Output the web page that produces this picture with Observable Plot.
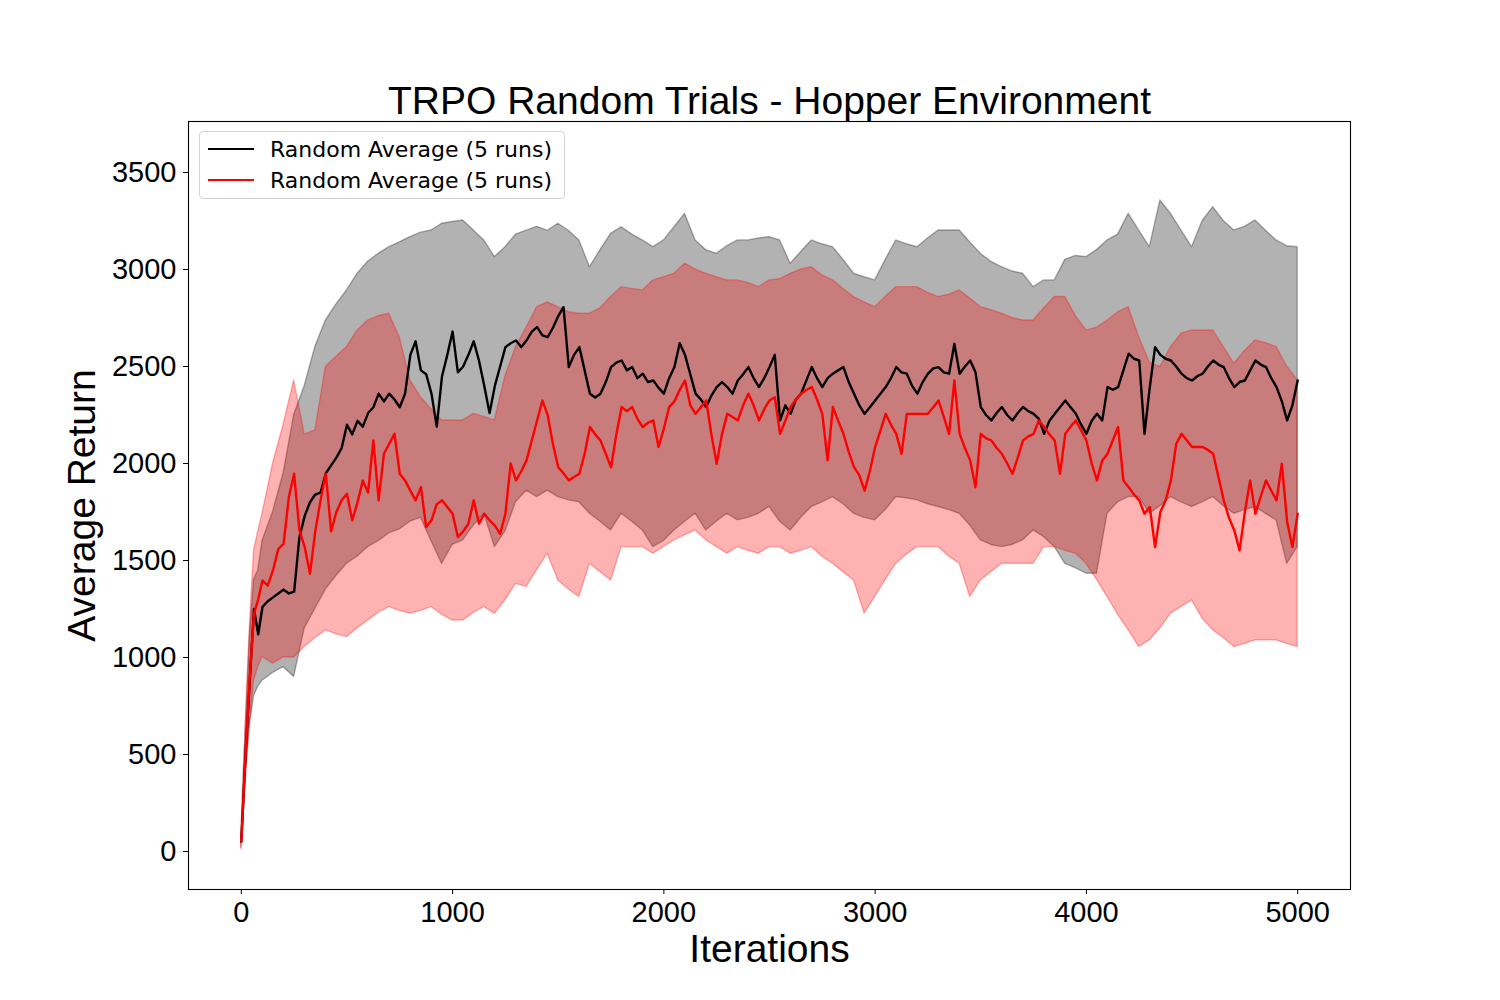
<!DOCTYPE html>
<html><head><meta charset="utf-8">
<script src="https://cdn.jsdelivr.net/npm/d3@7"></script>
<script src="https://cdn.jsdelivr.net/npm/@observablehq/plot@0.6"></script>
<style>
body{margin:0;background:#fff;}
#wrap{position:relative;width:1500px;height:1000px;}
#legend{position:absolute;left:199px;top:131px;width:364px;height:66px;border:1px solid #d3d3d3;border-radius:4px;background:rgba(255,255,255,0.8);font-family:"DejaVu Sans",sans-serif;font-size:22px;color:#000;}
.row{position:absolute;left:0;height:30px;display:flex;align-items:center;white-space:nowrap;}
.sw{width:46px;height:2px;margin-left:8px;margin-right:16px;}
</style></head>
<body><div id="wrap"></div>
<script>
const titleText = "TRPO Random Trials - Hopper Environment";
const xLabel = "Iterations";
const yLabel = "Average Return";
const seriesNames = ["Random Average (5 runs)", "Random Average (5 runs)"];
const seriesColors = ["black", "red"];
const xTicks = [0, 1000, 2000, 3000, 4000, 5000];
const yTicks = [0, 500, 1000, 1500, 2000, 2500, 3000, 3500];

// iterations sampled for the two mean curves
const meanIters = [0,20,40,60,80,100,125,150,175,200,
225,250,275,300,325,350,375,400,425,450,
475,500,525,550,575,600,625,650,675,700,
725,750,775,800,825,850,875,900,925,950,
975,1000,1025,1050,1075,1100,1125,1150,1175,1200,
1225,1250,1275,1300,1325,1350,1375,1400,1425,1450,
1475,1500,1525,1550,1575,1600,1625,1650,1675,1700,
1725,1750,1775,1800,1825,1850,1875,1900,1925,1950,
1975,2000,2025,2050,2075,2100,2125,2150,2175,2200,
2225,2250,2275,2300,2325,2350,2375,2400,2425,2450,
2475,2500,2525,2550,2575,2600,2625,2650,2675,2700,
2725,2750,2775,2800,2825,2850,2875,2900,2925,2950,
2975,3000,3025,3050,3075,3100,3125,3150,3175,3200,
3225,3250,3275,3300,3325,3350,3375,3400,3425,3450,
3475,3500,3525,3550,3575,3600,3625,3650,3675,3700,
3725,3750,3775,3800,3825,3850,3875,3900,3925,3950,
3975,4000,4025,4050,4075,4100,4125,4150,4175,4200,
4225,4250,4275,4300,4325,4350,4375,4400,4425,4450,
4475,4500,4525,4550,4575,4600,4625,4650,4675,4700,
4725,4750,4775,4800,4825,4850,4875,4900,4925,4950,
4975,5000];

const blackMean = [50,500,880,1250,1120,1260,1290,1310,1330,1350,
1330,1340,1620,1730,1800,1840,1850,1950,1990,2030,
2080,2200,2150,2220,2190,2260,2290,2360,2320,2360,
2330,2290,2360,2560,2630,2480,2460,2360,2190,2450,
2560,2680,2470,2500,2560,2630,2530,2400,2260,2400,
2500,2600,2620,2634,2600,2634,2680,2703,2660,2651,
2700,2760,2806,2497,2560,2600,2480,2360,2340,2360,
2420,2497,2520,2531,2480,2497,2440,2463,2420,2428,
2390,2360,2440,2497,2620,2560,2460,2360,2330,2291,
2350,2394,2420,2394,2360,2428,2460,2497,2440,2394,
2440,2497,2560,2222,2300,2256,2330,2360,2430,2497,
2440,2394,2440,2463,2480,2497,2420,2360,2300,2256,
2290,2325,2360,2394,2440,2497,2470,2463,2400,2360,
2420,2463,2490,2497,2470,2463,2617,2463,2500,2531,
2470,2291,2250,2222,2260,2291,2250,2222,2260,2291,
2270,2256,2230,2153,2220,2256,2290,2325,2290,2256,
2200,2153,2220,2256,2222,2394,2380,2394,2480,2566,
2540,2531,2153,2394,2600,2560,2540,2531,2500,2463,
2440,2428,2450,2463,2500,2531,2510,2497,2440,2394,
2420,2428,2480,2531,2510,2497,2440,2394,2320,2222,
2300,2428];

const redMean = [50,500,900,1226,1300,1397,1370,1450,1560,1586,
1827,1947,1655,1569,1432,1650,1810,1947,1650,1750,
1810,1844,1707,1800,1913,1850,2119,1810,2050,2102,
2153,1947,1913,1860,1810,1878,1672,1707,1790,1810,
1776,1741,1621,1650,1690,1810,1690,1741,1707,1680,
1638,1741,2000,1913,1960,2016,2120,2222,2325,2250,
2100,1981,1950,1913,1930,1947,2050,2188,2150,2119,
2050,1981,2150,2291,2270,2291,2230,2188,2210,2222,
2085,2180,2291,2320,2380,2428,2300,2256,2290,2325,
2150,1999,2150,2256,2240,2222,2300,2360,2300,2222,
2280,2325,2342,2153,2220,2291,2330,2360,2380,2394,
2330,2256,2016,2291,2220,2153,2060,1981,1940,1860,
1960,2085,2170,2256,2200,2153,2050,2256,2256,2256,
2256,2256,2290,2325,2240,2153,2428,2153,2080,2016,
1878,2153,2130,2119,2080,2050,2000,1947,2030,2119,
2140,2153,2222,2188,2150,2119,1947,2153,2190,2222,
2170,2119,2000,1913,2016,2050,2120,2188,1913,1878,
1840,1810,1741,1776,1569,1750,1810,1913,2100,2153,
2120,2085,2085,2085,2070,2050,1930,1810,1720,1655,
1552,1750,1913,1741,1830,1913,1860,1810,1999,1700,
1569,1741];

// iterations sampled for the four band edges (mean ± spread)
const bandIters = [0,20,40,60,80,100,150,200,250,300,
350,400,450,500,550,600,650,700,750,800,
850,900,950,1000,1050,1100,1150,1200,1250,1300,
1350,1400,1450,1500,1550,1600,1650,1700,1750,1800,
1850,1900,1950,2000,2050,2100,2150,2200,2250,2300,
2350,2400,2450,2500,2550,2600,2650,2700,2750,2800,
2850,2900,2950,3000,3050,3100,3150,3200,3250,3300,
3350,3400,3450,3500,3550,3600,3650,3700,3750,3800,
3850,3900,3950,4000,4050,4100,4150,4200,4250,4300,
4350,4400,4450,4500,4550,4600,4650,4700,4750,4800,
4850,4900,4950,5000];

const blackUpper = [80,600,1100,1400,1450,1600,1750,1950,2250,2400,
2600,2737,2820,2892,2978,3040,3081,3115,3140,3167,
3190,3201,3236,3245,3253,3201,3150,3064,3115,3180,
3200,3220,3200,3236,3200,3150,3012,3100,3184,3218,
3180,3150,3115,3150,3218,3287,3150,3100,3081,3120,
3150,3150,3160,3167,3150,3030,3090,3150,3130,3115,
3050,2978,2960,2944,3050,3150,3130,3115,3160,3201,
3201,3201,3140,3081,3040,3012,2990,2978,2909,2944,
2944,3050,3070,3064,3100,3150,3180,3287,3200,3115,
3356,3287,3200,3115,3250,3321,3250,3201,3220,3253,
3200,3150,3120,3115];

const blackLower = [20,400,650,800,850,880,920,950,900,1150,
1250,1350,1420,1483,1520,1569,1600,1640,1660,1700,
1720,1600,1483,1580,1604,1680,1741,1569,1650,1800,
1860,1827,1860,1827,1810,1800,1741,1700,1655,1741,
1700,1655,1569,1600,1655,1700,1741,1655,1700,1741,
1707,1720,1741,1776,1700,1655,1720,1776,1800,1827,
1790,1741,1720,1707,1760,1827,1820,1810,1790,1776,
1760,1741,1680,1604,1580,1569,1580,1604,1655,1620,
1569,1483,1460,1432,1432,1741,1800,1827,1827,1741,
1780,1827,1800,1776,1800,1827,1780,1741,1760,1776,
1740,1707,1483,1569];

const redUpper = [80,650,1150,1550,1650,1741,1999,2200,2428,2150,
2170,2497,2550,2600,2686,2737,2760,2772,2650,2428,
2342,2280,2222,2222,2222,2256,2240,2222,2450,2600,
2700,2806,2830,2806,2780,2772,2772,2800,2858,2909,
2900,2892,2944,2960,2978,3030,3000,2978,2960,2944,
2944,2930,2909,2944,2950,2978,3000,3012,2970,2944,
2900,2858,2830,2806,2860,2909,2909,2909,2880,2858,
2870,2892,2850,2806,2790,2772,2750,2737,2737,2800,
2858,2858,2760,2686,2700,2737,2780,2806,2650,2520,
2497,2600,2669,2686,2686,2686,2600,2514,2580,2634,
2620,2600,2500,2428];

const redLower = [10,350,650,880,950,1002,968,1000,1000,1054,
1100,1140,1120,1105,1150,1191,1230,1260,1240,1226,
1240,1260,1220,1191,1191,1230,1260,1226,1294,1380,
1363,1450,1535,1397,1350,1312,1483,1440,1397,1569,
1569,1569,1535,1569,1604,1630,1655,1604,1570,1535,
1569,1550,1535,1569,1569,1535,1550,1569,1520,1483,
1440,1397,1226,1312,1400,1483,1530,1569,1569,1569,
1520,1483,1312,1397,1440,1483,1483,1483,1483,1569,
1569,1550,1535,1483,1400,1312,1220,1140,1054,1088,
1150,1226,1260,1294,1200,1140,1100,1054,1070,1088,
1088,1088,1070,1054];

const meanRows = meanIters.map((it, i) => ({it, bm: blackMean[i], rm: redMean[i]}));
const bandRows = bandIters.map((it, i) => ({it, bhi: blackUpper[i], blo: blackLower[i], rhi: redUpper[i], rlo: redLower[i]}));

const fmt = d3.format("d");
const chart = Plot.plot({
  width: 1500, height: 1000,
  marginLeft: 188, marginRight: 150, marginTop: 121, marginBottom: 111,
  style: {fontFamily: "'Liberation Sans', Arial, sans-serif", color: "black", background: "white"},
  x: {domain: [-250, 5250]},
  y: {domain: [-196, 3763]},
  marks: [
    Plot.areaY(bandRows, {x: "it", y1: "blo", y2: "bhi", fill: "black", fillOpacity: 0.3, stroke: "black", strokeOpacity: 0.3, strokeWidth: 1.4}),
    Plot.areaY(bandRows, {x: "it", y1: "rlo", y2: "rhi", fill: "red", fillOpacity: 0.3, stroke: "red", strokeOpacity: 0.3, strokeWidth: 1.4}),
    Plot.lineY(meanRows, {x: "it", y: "bm", stroke: seriesColors[0], strokeWidth: 2.4}),
    Plot.lineY(meanRows, {x: "it", y: "rm", stroke: seriesColors[1], strokeWidth: 2.4}),
    Plot.frame({stroke: "black", strokeWidth: 1.1}),
    Plot.axisX({ticks: xTicks, tickFormat: fmt, tickSize: 5, tickPadding: 7, fontSize: 29, label: null}),
    Plot.axisY({ticks: yTicks, tickFormat: fmt, tickSize: 5, tickPadding: 7, fontSize: 29, label: null}),
    Plot.text([titleText], {text: d => d, frameAnchor: "top", dy: -8, lineAnchor: "bottom", fontSize: 39}),
    Plot.text([xLabel], {text: d => d, frameAnchor: "bottom", dy: 72, lineAnchor: "bottom", fontSize: 39}),
    Plot.text([yLabel], {text: d => d, frameAnchor: "left", textAnchor: "middle", dx: -94, rotate: -90, lineAnchor: "bottom", fontSize: 39})
  ]
});
const wrap = document.getElementById("wrap");
wrap.appendChild(chart);

const legend = document.createElement("div");
legend.id = "legend";
seriesNames.forEach((name, i) => {
  const row = document.createElement("div");
  row.className = "row";
  row.style.top = (2 + i * 31) + "px";
  const sw = document.createElement("div");
  sw.className = "sw";
  sw.style.background = seriesColors[i];
  row.appendChild(sw);
  row.appendChild(document.createTextNode(name));
  legend.appendChild(row);
});
wrap.appendChild(legend);
</script>
</body></html>
